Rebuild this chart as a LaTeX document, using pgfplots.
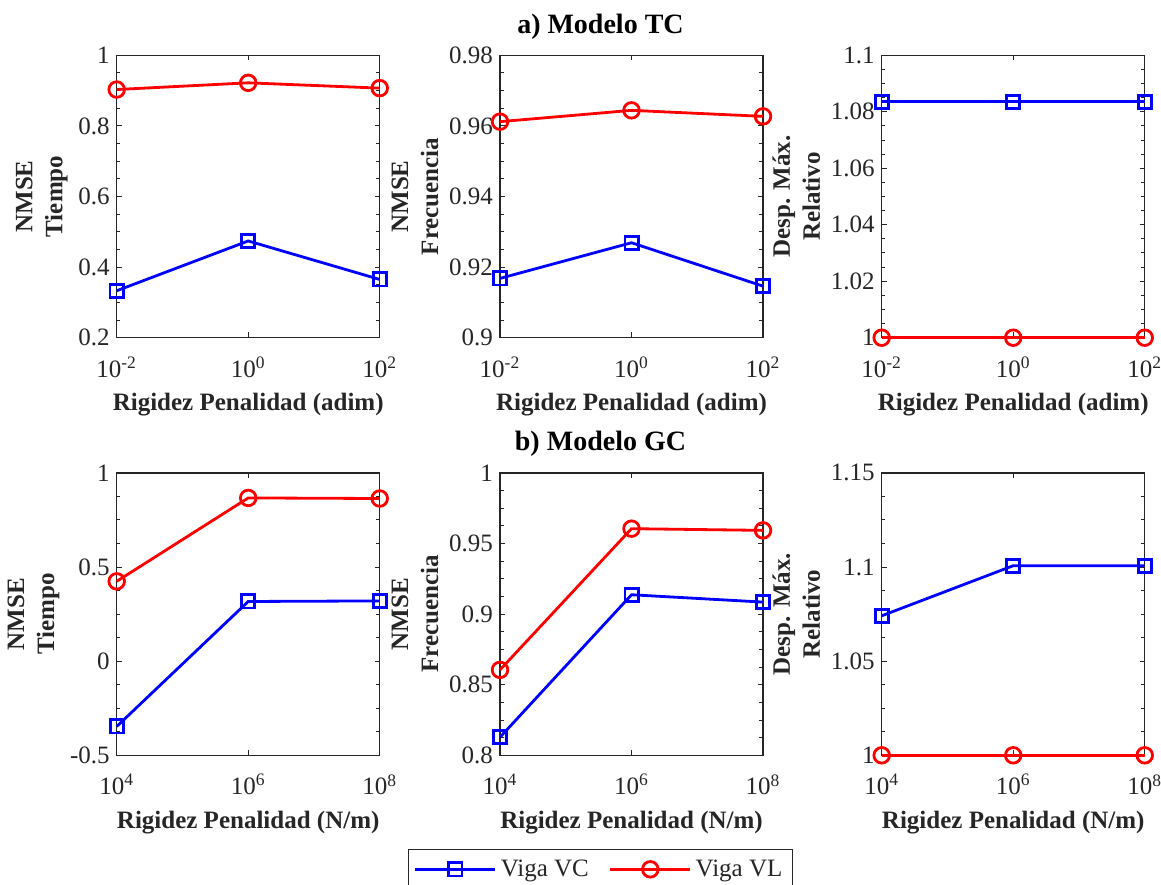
\documentclass[border=0pt]{standalone}
\usepackage{fontspec}
\setmainfont{Liberation Serif}
\usepackage{pgfplots}
\pgfplotsset{compat=1.18}
\definecolor{txt}{gray}{0.15}
\pgfplotsset{
  mystyle/.style={
    scale only axis, width=131.5pt, height=141.2pt,
    anchor=south west,
    xminorticks=false,
    tick align=inside,
    axis line style={txt, line width=0.6pt},
    every tick/.style={txt, line width=0.5pt},
    major tick length=2.6pt, minor tick length=1.8pt,
    minor y tick num=3,
    ticklabel style={font=\fontsize{12.5}{14}\selectfont, text=txt},
    xticklabel style={yshift=-6pt},
    label style={font=\bfseries\fontsize{12.5}{14}\selectfont, text=txt},
    xlabel style={yshift=-1pt},
    ylabel style={align=center, yshift=-1.5pt},
    /pgf/number format/assume math mode=true,
    yticklabel style={/pgf/number format/fixed, /pgf/number format/precision=2},
    clip=false,
    every axis title shift=0pt,
  },
  rowa/.style={xmin=0.01, xmax=100, xtick={0.01,1,100},
    xticklabels={10\textsuperscript{-2},10\textsuperscript{0},10\textsuperscript{2}},
    xlabel={Rigidez Penalidad (adim)}},
  rowb/.style={xmin=1e4, xmax=1e8, xtick={1e4,1e6,1e8},
    xticklabels={10\textsuperscript{4},10\textsuperscript{6},10\textsuperscript{8}},
    xlabel={Rigidez Penalidad (N/m)}},
  vc/.style={blue, line width=1.4pt, mark=square, mark size=3.3pt, mark options={solid}},
  vl/.style={red, line width=1.4pt, mark=o, mark size=3.9pt, mark options={solid}},
  ttl/.style={title style={font=\bfseries\fontsize{14}{16}\selectfont, text=black, at={(0.382,1)}, anchor=base, yshift=11pt}},
}
\begin{document}
\begin{tikzpicture}
\useasboundingbox (0,0) rectangle (580.5pt,442pt);
% ---- row a
\begin{semilogxaxis}[mystyle, rowa, at={(58.35pt,273.15pt)},
  ymin=0.2, ymax=1, ytick={0.2,0.4,0.6,0.8,1},
  ylabel={NMSE\\[1pt]Tiempo}]
\addplot[vc] coordinates {(0.01,0.333) (1,0.474) (100,0.365)};
\addplot[vl] coordinates {(0.01,0.903) (1,0.922) (100,0.907)};
\end{semilogxaxis}
\begin{semilogxaxis}[mystyle, rowa, ttl, at={(250pt,273.15pt)},
  ymin=0.9, ymax=0.98, ytick={0.9,0.92,0.94,0.96,0.98},
  ylabel={NMSE\\[1pt]Frecuencia}, title={a) Modelo TC}]
\addplot[vc] coordinates {(0.01,0.9168) (1,0.9269) (100,0.9146)};
\addplot[vl] coordinates {(0.01,0.9612) (1,0.9644) (100,0.9627)};
\end{semilogxaxis}
\begin{semilogxaxis}[mystyle, rowa, at={(440.85pt,273.15pt)},
  ymin=1, ymax=1.1, ytick={1,1.02,1.04,1.06,1.08,1.1},
  ylabel={Desp. Máx.\\[1pt]Relativo}]
\addplot[vc] coordinates {(0.01,1.0835) (1,1.0835) (100,1.0835)};
\addplot[vl] coordinates {(0.01,1) (1,1) (100,1)};
\end{semilogxaxis}
% ---- row b
\begin{semilogxaxis}[mystyle, rowb, at={(58.35pt,64.35pt)},
  ymin=-0.5, ymax=1, ytick={-0.5,0,0.5,1},
  ylabel={NMSE\\[1pt]Tiempo}]
\addplot[vc] coordinates {(1e4,-0.347) (1e6,0.317) (1e8,0.32)};
\addplot[vl] coordinates {(1e4,0.424) (1e6,0.867) (1e8,0.864)};
\end{semilogxaxis}
\begin{semilogxaxis}[mystyle, rowb, ttl, at={(250pt,64.35pt)},
  ymin=0.8, ymax=1, ytick={0.8,0.85,0.9,0.95,1},
  ylabel={NMSE\\[1pt]Frecuencia}, title={b) Modelo GC},
  legend columns=2,
  legend style={at={(0.381,-0.332)}, anchor=north, draw=txt, line width=0.5pt,
    font=\fontsize{12.5}{14}\selectfont, text=txt,
    inner xsep=3pt, inner ysep=3pt,
    /tikz/every even column/.append style={column sep=8pt}},
  legend image code/.code={\draw[#1, mark repeat=2, mark phase=2] plot coordinates {(0pt,0pt) (20pt,0pt) (40pt,0pt)};}]
\addplot[vc] coordinates {(1e4,0.8128) (1e6,0.9137) (1e8,0.9085)};
\addplot[vl] coordinates {(1e4,0.8605) (1e6,0.9605) (1e8,0.9593)};
\legend{Viga VC, Viga VL}
\end{semilogxaxis}
\begin{semilogxaxis}[mystyle, rowb, at={(440.85pt,64.35pt)},
  ymin=1, ymax=1.15, ytick={1,1.05,1.1,1.15},
  ylabel={Desp. Máx.\\[1pt]Relativo}]
\addplot[vc] coordinates {(1e4,1.0741) (1e6,1.1007) (1e8,1.1007)};
\addplot[vl] coordinates {(1e4,1) (1e6,1) (1e8,1)};
\end{semilogxaxis}
\end{tikzpicture}
\end{document}
